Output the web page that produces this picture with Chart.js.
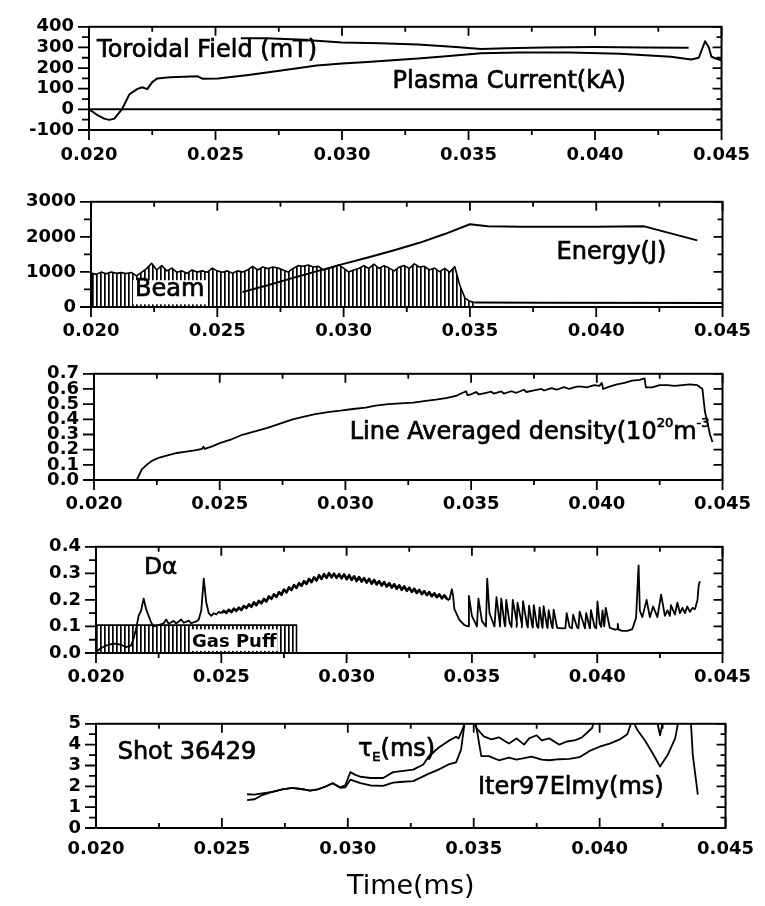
<!DOCTYPE html>
<html><head><meta charset="utf-8"><title>Shot 36429</title>
<script src="https://cdn.jsdelivr.net/npm/chart.js@4.4.1/dist/chart.umd.min.js"></script>
<style>
html,body{margin:0;padding:0;background:#fff;}
body{width:765px;height:906px;position:relative;overflow:hidden;}
.panel{position:absolute;left:0;width:765px;}
.panel canvas{display:block;}
</style></head><body>
<div class="panel" id="p1"><canvas id="c1"></canvas></div>
<div class="panel" id="p2"><canvas id="c2"></canvas></div>
<div class="panel" id="p3"><canvas id="c3"></canvas></div>
<div class="panel" id="p4"><canvas id="c4"></canvas></div>
<div class="panel" id="p5"><canvas id="c5"></canvas></div>
<script>
// ---------- tick values ----------
const timeTicks = [0.020, 0.025, 0.030, 0.035, 0.040, 0.045];
const currentTicks = [-100, 0, 100, 200, 300, 400];
const energyTicks = [0, 1000, 2000, 3000];
const densityTicks = [0.0, 0.1, 0.2, 0.3, 0.4, 0.5, 0.6, 0.7];
const dalphaTicks = [0.0, 0.1, 0.2, 0.3, 0.4];
const tauTicks = [0, 1, 2, 3, 4, 5];

// ---------- panel 1: plasma current / toroidal field ----------
const tPlasma = [0.0200,0.0203,0.0206,0.0208,0.0210,0.0213,0.0216,0.0219,0.0221,0.0223,0.0225,0.0227,0.0232,0.0243,0.0245,0.0251,0.0263,0.0276,0.0290,0.0300,0.0310,0.0320,0.0330,0.0340,0.0355,0.0370,0.0390,0.0410,0.0430,0.0438,0.0441,0.04435,0.0445,0.0446,0.0448,0.0450];
const plasmaCurrent = [0,-25,-45,-51,-45,0,73,98,107,98,132,150,155,160,148,150,167,188,212,222,230,238,246,256,272,276,276,270,255,242,250,330,300,255,245,238];
const tToroidal = [0.0260,0.0270,0.0280,0.0290,0.0300,0.0315,0.0330,0.0345,0.0355,0.0365,0.0380,0.0400,0.0420,0.0437];
const toroidalField = [345,344,340,332,324,320,314,302,292,296,300,302,300,298];
const tZero = [0.020, 0.045];
const zeroLine = [0, 0];

// ---------- panel 2: beam / energy ----------
const tBeam = [0.0200,0.0202,0.0204,0.0206,0.0208,0.0210,0.0212,0.0214,0.0216,0.0218,0.0220,0.0222,0.0224,0.0226,0.0228,0.0230,0.0232,0.0234,0.0236,0.0238,0.0240,0.0242,0.0244,0.0246,0.0248,0.0250,0.0252,0.0254,0.0256,0.0258,0.0260,0.0262,0.0264,0.0266,0.0268,0.0270,0.0272,0.0274,0.0276,0.0278,0.0280,0.0282,0.0284,0.0286,0.0288,0.0290,0.0292,0.0294,0.0296,0.0298,0.0300,0.0302,0.0304,0.0306,0.0308,0.0310,0.0312,0.0314,0.0316,0.0318,0.0320,0.0322,0.0324,0.0326,0.0328,0.0330,0.0332,0.0334,0.0336,0.0338,0.0340,0.0342,0.0344,0.0346,0.0348,0.0350,0.0352];
const beamPower = [970,930,995,945,995,960,980,955,985,885,990,1095,1245,1055,1180,1030,1110,990,1030,960,1055,995,1030,990,1110,1030,990,1030,960,1030,995,1055,1160,1055,1140,1100,1140,1110,1055,995,1100,1180,1160,1200,1140,1160,1055,1100,1140,1200,1110,995,1055,1100,1180,1100,1220,1100,1180,1110,1030,1140,1180,1100,1230,1140,1160,1055,1110,1010,1100,995,1150,620,260,160,130];
const tBeamTail = [0.0352, 0.0380, 0.0450];
const beamTail = [130, 120, 115];
const tEnergy = [0.0260,0.0270,0.0280,0.0290,0.0300,0.0310,0.0320,0.0330,0.0340,0.0350,0.0357,0.0370,0.0400,0.0419,0.0440];
const energy = [430,620,830,1030,1230,1420,1620,1830,2080,2360,2300,2290,2290,2300,1900];

// ---------- panel 3: line averaged density ----------
const tDensity = [0.0200,0.0217,0.0219,0.0221,0.0223,0.0226,0.0230,0.0233,0.0236,0.0240,0.0243,0.02435,0.0244,0.0247,0.0250,0.0255,0.0259,0.0264,0.0269,0.0274,0.0279,0.0284,0.0288,0.0293,0.0298,0.0303,0.0308,0.0312,0.0317,0.0322,0.0327,0.0332,0.0336,0.0340,0.0344,0.0346,0.0348,0.03485,0.0350,0.0352,0.0353,0.0356,0.0358,0.0359,0.0362,0.0363,0.0366,0.0368,0.0371,0.0372,0.0375,0.0378,0.0379,0.0382,0.0384,0.0387,0.0389,0.0392,0.0394,0.0396,0.0399,0.0401,0.0402,0.04025,0.0405,0.0408,0.0411,0.0414,0.0417,0.0419,0.04195,0.0422,0.0425,0.0428,0.0431,0.0434,0.0437,0.0440,0.0442,0.0443,0.0444,0.0445,0.0446];
const density = [0,0,0.07,0.10,0.126,0.148,0.166,0.178,0.186,0.195,0.205,0.22,0.205,0.222,0.243,0.27,0.298,0.32,0.344,0.372,0.40,0.42,0.434,0.448,0.457,0.468,0.477,0.49,0.50,0.505,0.51,0.522,0.53,0.54,0.554,0.57,0.585,0.56,0.565,0.58,0.565,0.575,0.582,0.57,0.584,0.57,0.585,0.575,0.595,0.58,0.59,0.60,0.59,0.605,0.595,0.612,0.60,0.615,0.616,0.61,0.625,0.62,0.64,0.60,0.615,0.63,0.64,0.655,0.66,0.67,0.61,0.61,0.625,0.625,0.62,0.625,0.63,0.625,0.60,0.45,0.38,0.30,0.25];

// ---------- panel 4: D-alpha / gas puff ----------
const tDalpha = [0.0200,0.0202,0.0204,0.0206,0.0208,0.0210,0.0212,0.0214,0.0215,0.0216,0.0217,0.0218,0.0219,0.0220,0.0221,0.0222,0.0223,0.0225,0.0227,0.0228,0.0229,0.0231,0.0232,0.0234,0.0235,0.0237,0.0238,0.0240,0.0241,0.0242,0.0243,0.0244,0.0245,0.0246,0.0247,0.0248,0.0249,
0.0250,0.0251,0.0252,0.0253,0.0254,0.0255,0.0256,0.0257,0.0258,0.0259,0.0260,0.0261,0.0262,0.0263,0.0264,0.0265,0.0266,0.0267,0.0268,0.0269,0.0270,0.0271,0.0272,0.0273,0.0274,0.0275,0.0276,0.0277,0.0278,0.0279,0.0280,0.0281,0.0282,0.0283,0.0284,0.0285,0.0286,0.0287,0.0288,0.0289,0.0290,0.0291,0.0292,0.0293,0.0294,0.0295,0.0296,0.0297,0.0298,0.0299,0.0300,0.0301,0.0302,0.0303,0.0304,0.0305,0.0306,0.0307,0.0308,0.0309,0.0310,0.0311,0.0312,0.0313,0.0314,0.0315,0.0316,0.0317,0.0318,0.0319,0.0320,0.0321,0.0322,0.0323,0.0324,0.0325,0.0326,0.0327,0.0328,0.0329,0.0330,0.0331,0.0332,0.0333,0.0334,0.0335,0.0336,0.0337,0.0338,0.0339,0.0340,
0.0341,0.0342,0.03425,0.0343,0.0345,0.0347,0.03485,0.03488,0.0350,0.0352,0.03526,0.0354,0.03556,0.03561,0.0357,0.0359,0.03598,0.0361,0.03612,0.03617,0.0363,0.03633,0.03637,0.0365,0.03658,0.03663,0.0368,0.03678,0.03682,0.0370,0.03699,0.03704,0.0372,0.03723,0.03728,0.0374,0.03743,0.03747,0.0376,0.03765,0.0377,0.0378,0.03782,0.03786,0.0380,0.03802,0.03806,0.0382,0.03822,0.03826,0.0384,0.0386,0.03873,0.03878,0.0389,0.03899,0.03904,0.0392,0.03925,0.0393,0.0395,0.03951,0.03956,0.0397,0.03971,0.03975,0.0399,0.03996,0.04001,0.0401,0.04016,0.04021,0.04028,0.04034,0.0405,0.0407,0.0408,0.04082,0.04085,0.0410,0.0412,0.0414,0.04155,0.04165,0.0417,0.0418,0.04197,0.0421,0.04223,0.0424,0.04255,0.0427,0.0428,0.0429,0.04294,0.0431,0.0432,0.0433,0.0434,0.0435,0.04359,0.0437,0.0438,0.0439,0.0440,0.04405,0.0441];
const dalpha = [0.005,0.018,0.028,0.033,0.035,0.031,0.022,0.028,0.055,0.090,0.140,0.160,0.205,0.165,0.140,0.115,0.100,0.105,0.112,0.126,0.110,0.121,0.111,0.126,0.114,0.122,0.112,0.119,0.126,0.160,0.280,0.190,0.150,0.140,0.150,0.145,0.155,
0.150,0.159,0.151,0.163,0.154,0.167,0.159,0.171,0.162,0.177,0.169,0.183,0.174,0.191,0.180,0.196,0.187,0.204,0.194,0.213,0.204,0.221,0.211,0.229,0.219,0.239,0.228,0.247,0.237,0.256,0.245,0.263,0.253,0.271,0.260,0.279,0.267,0.285,0.273,0.293,0.279,0.297,0.283,0.301,0.285,0.299,0.283,0.297,0.281,0.296,0.278,0.293,0.275,0.289,0.271,0.286,0.269,0.282,0.265,0.279,0.261,0.275,0.258,0.271,0.254,0.267,0.250,0.263,0.246,0.259,0.242,0.255,0.238,0.251,0.234,0.246,0.230,0.242,0.226,0.238,0.222,0.233,0.218,0.229,0.214,0.225,0.210,0.221,0.206,0.217,0.204,
0.200,0.240,0.215,0.165,0.125,0.105,0.100,0.215,0.140,0.100,0.205,0.120,0.100,0.280,0.150,0.100,0.210,0.120,0.100,0.205,0.110,0.100,0.200,0.115,0.098,0.200,0.110,0.098,0.190,0.105,0.097,0.195,0.105,0.096,0.178,0.105,0.096,0.180,0.100,0.095,0.172,0.100,0.095,0.176,0.098,0.094,0.161,0.097,0.094,0.163,0.095,0.093,0.094,0.150,0.097,0.093,0.144,0.096,0.093,0.156,0.096,0.093,0.150,0.095,0.093,0.161,0.096,0.093,0.194,0.110,0.098,0.160,0.100,0.170,0.095,0.088,0.090,0.110,0.088,0.083,0.083,0.090,0.133,0.330,0.160,0.135,0.200,0.135,0.175,0.135,0.220,0.140,0.161,0.140,0.180,0.145,0.190,0.150,0.170,0.150,0.175,0.155,0.170,0.165,0.200,0.255,0.270];
const tGasPuff = [0.020, 0.020, 0.028, 0.028];
const gasPuff = [0, 0.105, 0.105, 0];

// ---------- panel 5: confinement times ----------
const tTauE = [0.0260,0.0263,0.0266,0.0270,0.0274,0.0278,0.0282,0.0285,0.0288,0.0291,0.0294,0.0297,0.0299,0.0301,0.0303,0.0305,0.0309,0.0314,0.0318,0.0322,0.0326,0.0330,0.0332,0.0336,0.0340,0.0343,0.0344,0.0346,0.0347,0.0349,0.0351,0.0354,0.0357,0.0360,0.0362,0.0364,0.0367,0.0370,0.0372,0.0375,0.0377,0.0380,0.0384,0.0387,0.0390,0.0393,0.0397,0.0399,0.0422,0.0424,0.0426,0.0430];
const tauE = [1.62,1.60,1.66,1.73,1.85,1.93,1.86,1.79,1.85,1.98,2.15,1.95,2.05,2.68,2.55,2.46,2.40,2.40,2.68,2.74,2.80,3.05,3.42,3.85,4.18,4.38,4.30,4.86,5.6,5.6,4.8,4.4,4.25,4.35,4.2,4.05,4.3,4.0,4.3,4.45,4.2,4.3,4.0,4.15,4.2,4.35,4.8,5.6,5.6,4.45,5.6,5.6];
const tIter97 = [0.0260,0.0263,0.0266,0.0270,0.0274,0.0278,0.0282,0.0285,0.0288,0.0291,0.0294,0.0297,0.0299,0.0301,0.0305,0.0309,0.0314,0.0318,0.0322,0.0326,0.0332,0.0336,0.0340,0.0343,0.0345,0.0347,0.0350,0.0353,0.0356,0.0360,0.0364,0.0367,0.0370,0.0373,0.0377,0.0380,0.0384,0.0388,0.0392,0.0396,0.0400,0.0404,0.0408,0.0411,0.0413,0.0415,0.0418,0.0421,0.0424,0.0427,0.0430,0.0432,0.0436,0.0437,0.0439];
const iter97Elmy = [1.34,1.38,1.58,1.73,1.85,1.93,1.86,1.79,1.85,1.98,2.15,1.93,1.95,2.32,2.15,2.04,2.02,2.18,2.22,2.25,2.60,2.80,3.05,3.15,3.77,5.6,5.6,3.45,3.45,3.25,3.38,3.28,3.35,3.42,3.28,3.25,3.30,3.32,3.40,3.70,3.90,4.05,4.25,4.50,5.2,4.7,4.2,3.6,2.95,3.5,4.3,5.6,5.6,3.5,1.6];

// ---------- helpers ----------
const FONT = '"DejaVu Sans", "Liberation Sans", sans-serif';
Chart.defaults.font.family = FONT;
Chart.defaults.color = '#000';
const pts = (ts, vs) => ts.map((t, i) => ({x: t, y: vs[i]}));

function hatchPattern() {
  const c = document.createElement('canvas');
  c.width = 4; c.height = 4;
  const g = c.getContext('2d');
  g.fillStyle = '#000'; g.fillRect(0, 0, 1, 4);
  g.fillStyle = 'rgba(0,0,0,0.7)'; g.fillRect(1, 0, 1, 4);
  return g.createPattern(c, 'repeat');
}
const HATCH = hatchPattern();

function line(ts, vs, extra) {
  return Object.assign({data: pts(ts, vs), borderColor: '#000', borderWidth: 2, pointRadius: 0,
    fill: false, tension: 0, borderJoinStyle: 'round'}, extra || {});
}

const framePlugin = {
  id: 'frame',
  afterDatasetsDraw(chart, args, o) {
    const {ctx, chartArea: a} = chart;
    const xs = chart.scales.x, ys = chart.scales.y;
    ctx.save();
    (o.boxes || []).forEach(b => {
      const x1 = xs.getPixelForValue(b.t0), x2 = xs.getPixelForValue(b.t1);
      const y1 = ys.getPixelForValue(b.v1), y2 = ys.getPixelForValue(b.v0);
      ctx.fillStyle = '#fff'; ctx.fillRect(x1, y1, x2 - x1, y2 - y1);
    });
    (o.texts || []).forEach(tx => {
      let x = xs.getPixelForValue(tx.t);
      const y = ys.getPixelForValue(tx.v);
      ctx.fillStyle = '#000'; ctx.strokeStyle = '#000'; ctx.lineWidth = 0.7;
      ctx.textBaseline = 'middle'; ctx.textAlign = 'left';
      tx.runs.forEach(r => {
        ctx.font = (r.weight || 'normal') + ' ' + r.size + 'px ' + FONT;
        ctx.fillText(r.text, x, y + (r.dy || 0));
        if (!r.weight) ctx.strokeText(r.text, x, y + (r.dy || 0));
        x += ctx.measureText(r.text).width;
      });
    });
    ctx.strokeStyle = '#000'; ctx.lineWidth = 2;
    ctx.strokeRect(a.left, a.top, a.right - a.left, a.bottom - a.top);
    const xv = xs.ticks.map(t => t.value), yv = ys.ticks.map(t => t.value);
    const mids = v => v.slice(1).map((u, i) => (u + v[i]) / 2);
    ctx.lineWidth = 1.8; ctx.beginPath();
    const seg = (x1, y1, x2, y2) => { ctx.moveTo(x1, y1); ctx.lineTo(x2, y2); };
    const bd = o.bottomDir;
    xv.forEach(v => { const p = xs.getPixelForValue(v); seg(p, a.top, p, a.top + 9); seg(p, a.bottom, p, a.bottom + bd * 10); });
    mids(xv).forEach(v => { const p = xs.getPixelForValue(v); seg(p, a.top, p, a.top + 5); seg(p, a.bottom, p, a.bottom + bd * 5); });
    yv.forEach(v => { const p = ys.getPixelForValue(v); seg(a.left, p, a.left - 11, p); seg(a.right, p, a.right - 9, p); });
    if (o.yMinor) mids(yv).forEach(v => { const p = ys.getPixelForValue(v); seg(a.left, p, a.left - 7, p); seg(a.right, p, a.right - 5, p); });
    ctx.stroke();
    ctx.restore();
  }
};

function makePanel(n, geo, yTicks, yFmt, datasets, frameOpts, xTitle) {
  const top = geo.T - 12;
  const h = geo.B - top + geo.xH;
  const div = document.getElementById('p' + n);
  div.style.top = top + 'px'; div.style.height = h + 'px';
  const cv = document.getElementById('c' + n);
  cv.width = 765; cv.height = h; cv.style.width = '765px'; cv.style.height = h + 'px';
  new Chart(cv, {
    type: 'line',
    data: {datasets},
    options: {
      responsive: false, maintainAspectRatio: false, animation: false,
      layout: {autoPadding: false, padding: {top: 12, right: 765 - geo.R, left: 0, bottom: 0}},
      plugins: {legend: {display: false}, tooltip: {enabled: false}, frame: frameOpts},
      scales: {
        x: {type: 'linear', min: 0.020, max: 0.045,
          afterBuildTicks: s => { s.ticks = timeTicks.map(v => ({value: v})); },
          afterFit: s => { s.height = geo.xH; },
          grid: {display: false, drawTicks: false}, border: {display: false},
          ticks: {autoSkip: false, maxRotation: 0, padding: geo.xPad, color: '#000', font: {size: 18, weight: 'bold'},
            callback: v => Number(v).toFixed(3)},
          title: xTitle || {display: false}},
        y: {type: 'linear', min: yTicks[0], max: yTicks[yTicks.length - 1],
          afterBuildTicks: s => { s.ticks = yTicks.map(v => ({value: v})); },
          afterFit: s => { s.width = geo.L; },
          grid: {display: false, drawTicks: false}, border: {display: false},
          ticks: {autoSkip: false, padding: 15, color: '#000', font: {size: 18, weight: 'bold'}, callback: yFmt}}
      }
    },
    plugins: [framePlugin]
  });
}

const intFmt = v => String(v);
const oneFmt = v => Number(v).toFixed(1);
const big = 24;
// thicker trace where the D-alpha signal is a noisy band
const bandWidth = ctx => (ctx.p0.parsed.x >= 0.0250 && ctx.p1.parsed.x <= 0.0341) ? 2.6 : 1.8;

// Panel 1
makePanel(1, {L: 89, R: 722, T: 13, B: 130, xH: 38, xPad: 15}, currentTicks, intFmt, [
  line(tPlasma, plasmaCurrent),
  line(tToroidal, toroidalField),
  line(tZero, zeroLine)
], {bottomDir: 1, yMinor: true, texts: [
  {t: 0.02032, v: 285, runs: [{text: 'Toroidal Field (mT)', size: big}]},
  {t: 0.0320, v: 133, runs: [{text: 'Plasma Current(kA)', size: big}]}
]});

// Panel 2
makePanel(2, {L: 91, R: 723, T: 188, B: 307, xH: 38, xPad: 14}, energyTicks, intFmt, [
  line(tEnergy, energy),
  line(tBeamTail, beamTail),
  line(tBeam, beamPower, {fill: 'origin', backgroundColor: HATCH, borderWidth: 1.6})
], {bottomDir: 1, yMinor: true,
  boxes: [{t0: 0.02166, t1: 0.02459, v0: 76, v1: 764}],
  texts: [
  {t: 0.03843, v: 1550, runs: [{text: 'Energy(J)', size: big}]},
  {t: 0.02174, v: 504, runs: [{text: 'Beam', size: big}]}
]});

// Panel 3
makePanel(3, {L: 94, R: 727, T: 360, B: 480, xH: 38, xPad: 14}, densityTicks, oneFmt, [
  line(tDensity, density, {borderWidth: 1.8})
], {bottomDir: 1, yMinor: false, texts: [
  {t: 0.03017, v: 0.31, runs: [{text: 'Line Averaged density(10', size: big}, {text: '20', size: 13, dy: -9}, {text: 'm', size: big}, {text: '-3', size: 13, dy: -9}]}
]});

// Panel 4
makePanel(4, {L: 96, R: 731, T: 533, B: 653, xH: 38, xPad: 14}, dalphaTicks, oneFmt, [
  line(tDalpha, dalpha, {borderWidth: 1.8, segment: {borderWidth: bandWidth}}),
  line(tGasPuff, gasPuff, {fill: 'origin', backgroundColor: HATCH, borderWidth: 1.6})
], {bottomDir: 1, yMinor: true,
  boxes: [{t0: 0.02375, t1: 0.02725, v0: 0.008, v1: 0.089}],
  texts: [
  {t: 0.02193, v: 0.321, runs: [{text: 'Dα', size: 23}]},
  {t: 0.02383, v: 0.040, runs: [{text: 'Gas Puff', size: 18, weight: 'bold'}]}
]});

// Panel 5
makePanel(5, {L: 96, R: 732, T: 710, B: 828, xH: 78, xPad: 11}, tauTicks, intFmt, [
  line(tTauE, tauE, {borderWidth: 1.8}),
  line(tIter97, iter97Elmy, {borderWidth: 1.8})
], {bottomDir: -1, yMinor: true, texts: [
  {t: 0.02086, v: 3.6, runs: [{text: 'Shot 36429', size: big}]},
  {t: 0.0304, v: 3.75, runs: [{text: 'τ', size: big}, {text: 'E', size: 13, dy: 8}, {text: '(ms)', size: big}]},
  {t: 0.03517, v: 1.95, runs: [{text: 'Iter97Elmy(ms)', size: big}]}
]}, {display: true, text: 'Time(ms)', color: '#000', font: {size: 27}, padding: {top: 0, bottom: 3}});
</script>
</body></html>
